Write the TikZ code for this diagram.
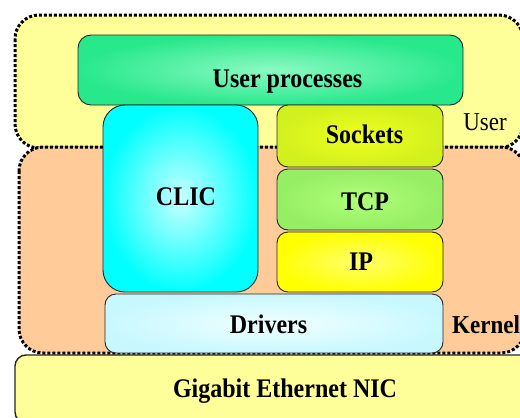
\documentclass[tikz,border=0pt]{standalone}
\usepackage{fontspec}
\setmainfont{Liberation Serif}
\newfontfamily\stackfont{Liberation Serif}
% labels are set slightly taller than the natural glyphs
\newcommand\tallText[1]{\scalebox{1}[1.12]{#1}}

% fill colours of the layers
\definecolor{userzone}{RGB}{255,255,153}
\definecolor{kernelzone}{RGB}{255,204,153}
\definecolor{nicfill}{RGB}{255,255,153}
\definecolor{procout}{RGB}{40,232,140}
\definecolor{procin}{RGB}{140,250,195}
\definecolor{clicout}{RGB}{0,255,255}
\definecolor{clicin}{RGB}{200,255,255}
\definecolor{sockout}{RGB}{210,240,30}
\definecolor{sockin}{RGB}{240,255,30}
\definecolor{tcpout}{RGB}{150,238,100}
\definecolor{tcpin}{RGB}{175,255,120}
\definecolor{ipout}{RGB}{255,255,0}
\definecolor{ipin}{RGB}{255,255,110}
\definecolor{drvout}{RGB}{200,248,255}
\definecolor{drvin}{RGB}{240,255,255}

\tikzset{
  zone/.style={line width=3pt, dash pattern=on 3pt off 2pt, rounded corners=24pt},
  layerbox/.style={draw=black!85, line width=0.9pt, rounded corners=11pt, inner sep=0pt},
  stacktext/.style={font=\stackfont\fontsize{24}{28}\selectfont\bfseries, inner sep=0pt, anchor=base},
  zonelabel/.style={font=\stackfont\fontsize{23}{27}\selectfont, inner sep=0pt, anchor=base}
}

\begin{document}
\begin{tikzpicture}[x=1pt, y=-1pt]
  \useasboundingbox (0,0) rectangle (520,418);
  \clip (0,0) rectangle (520,418);

  % user-space and kernel-space zones
  \draw[zone, fill=userzone] (15,15) rectangle (523,148);
  \draw[zone, fill=kernelzone] (19,147) rectangle (525,353);

  % protocol stack boxes
  \node[layerbox, rounded corners=13pt, shading=radial, outer color=procout, inner color=procin,
        minimum width=385pt, minimum height=70pt] (proc) at (270.5,70) {};
  \node[layerbox, rounded corners=22pt, shading=radial, outer color=clicout, inner color=clicin,
        minimum width=155pt, minimum height=187pt] (clic) at (180.5,198.5) {};
  \node[layerbox, shading=radial, outer color=sockout, inner color=sockin,
        minimum width=166pt, minimum height=62pt] (sock) at (360,136) {};
  \node[layerbox, shading=radial, outer color=tcpout, inner color=tcpin,
        minimum width=166pt, minimum height=61pt] (tcp) at (360,199.5) {};
  \node[layerbox, shading=radial, outer color=ipout, inner color=ipin,
        minimum width=166pt, minimum height=60pt] (ip) at (360,262) {};
  \node[layerbox, shading=radial, outer color=drvout, inner color=drvin,
        minimum width=338pt, minimum height=59pt] (drv) at (274,323.5) {};
  \node[layerbox, fill=nicfill, line width=1.4pt,
        minimum width=516pt, minimum height=68pt] (nic) at (273,389) {};

  % box texts, placed on their baselines
  \node[stacktext] (proctext) at (287.5,87) {\tallText{User processes}};
  \node[stacktext] (clictext) at (186,205) {\tallText{CLIC}};
  \node[stacktext] (socktext) at (364.5,143) {\tallText{Sockets}};
  \node[stacktext] (tcptext) at (365,210) {\tallText{TCP}};
  \node[stacktext] (iptext) at (361,270) {\tallText{IP}};
  \node[stacktext] (drvtext) at (268.5,333) {\tallText{Drivers}};
  \node[stacktext] (nictext) at (285,397) {\tallText{Gigabit Ethernet NIC}};

  % zone labels
  \node[zonelabel] (userlbl) at (485,130) {\tallText{User}};
  \node[zonelabel, anchor=base west, font=\stackfont\fontsize{23}{27}\selectfont\bfseries]
       (kernlbl) at (452,333) {\tallText{Kernel}};
\end{tikzpicture}
\end{document}
